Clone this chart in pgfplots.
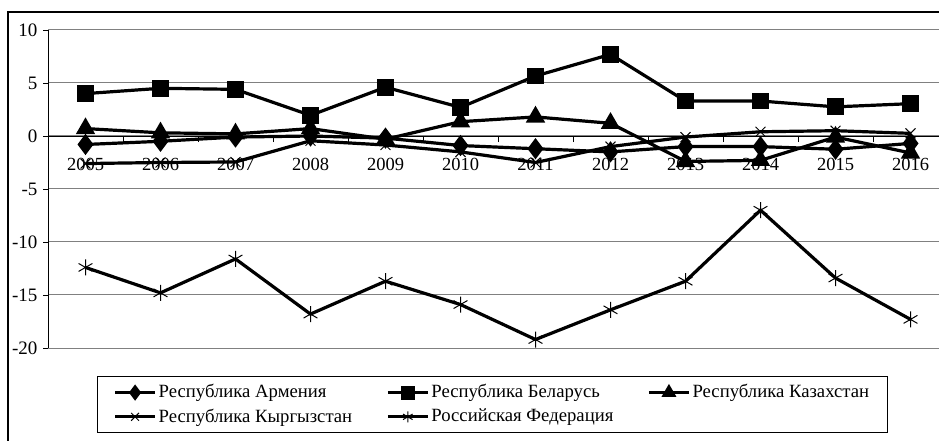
\documentclass[border=0pt]{standalone}
\usepackage{pgfplots}
\pgfplotsset{compat=1.18}
\usepackage{fontspec}
\setmainfont{Liberation Serif}
\begin{document}
\fontsize{19bp}{22bp}\selectfont
\begin{tikzpicture}
\useasboundingbox (0,0) rectangle (939bp,441bp);
\draw[line width=1.3bp] (8bp,-5bp) -- (8bp,429bp) -- (960bp,429bp);
\begin{axis}[
  at={(48bp,93bp)}, anchor=south west,
  scale only axis, width=891bp, height=318bp,
  xmin=-0.5, xmax=11.38, ymin=-20, ymax=10,
  axis y line=left, axis x line=middle,
  axis line style={-, line width=0.9bp, black},
  ytick={-20,-15,-10,-5,0,5,10},
  yticklabels={-20,-15,-10,-5,0,5,10},
  ymajorgrids, grid style={line width=1bp, gray},
  xtick={0,1,2,3,4,5,6,7,8,9,10,11},
  xticklabels={2005,2006,2007,2008,2009,2010,2011,2012,2013,2014,2015,2016},
  minor xtick={0.5,1.5,2.5,3.5,4.5,5.5,6.5,7.5,8.5,9.5,10.5},
  xtick align=outside, ytick align=outside,
  major x tick style={draw=none},
  minor x tick style={line width=0.8bp, black},
  minor tick length=6bp,
  major y tick style={line width=0.8bp, black},
  major tick length=5bp,
  xticklabel style={yshift=-11bp, font=\fontsize{18.5bp}{22bp}\selectfont},
  yticklabel style={font=\fontsize{19bp}{22bp}\selectfont, xshift=1bp},
  every axis plot/.append style={line width=3.2bp, black},
  legend columns=3,
  legend cell align=left,
  legend style={at={(0.055,-0.088)}, anchor=north west, draw=black, line width=1bp,
    inner xsep=16bp, inner ysep=6bp, row sep=4bp,
    font=\fontsize{18.7bp}{22bp}\selectfont,
    /tikz/every even column/.append style={column sep=32bp},
    nodes={inner sep=2bp}},
  legend image code/.code={
    \draw[mark repeat=2,mark phase=2, mark size=5.5bp] plot coordinates {(0bp,0bp) (20bp,0bp) (40bp,0bp)};},
  clip=false,
]
\addplot[mark=diamond*, mark size=8bp, mark options={solid, fill=black}] coordinates {
(0,-0.8) (1,-0.5) (2,-0.1) (3,0.0) (4,-0.2) (5,-0.9) (6,-1.2) (7,-1.5) (8,-1.0) (9,-1.0) (10,-1.25) (11,-0.7)};
\addlegendentry{Республика Армения}
\addplot[mark=square*, mark size=6.8bp, mark options={solid, fill=black}] coordinates {
(0,4.0) (1,4.5) (2,4.4) (3,1.95) (4,4.6) (5,2.7) (6,5.66) (7,7.7) (8,3.3) (9,3.3) (10,2.75) (11,3.05)};
\addlegendentry{Республика Беларусь}
\addplot[mark=triangle*, mark size=8bp, mark options={solid, fill=black}] coordinates {
(0,0.7) (1,0.3) (2,0.2) (3,0.7) (4,-0.3) (5,1.35) (6,1.8) (7,1.2) (8,-2.4) (9,-2.3) (10,-0.1) (11,-1.6)};
\addlegendentry{Республика Казахстан}
\addplot[mark=x, mark size=7bp, mark options={solid, line width=1bp}] coordinates {
(0,-2.6) (1,-2.5) (2,-2.45) (3,-0.45) (4,-0.85) (5,-1.5) (6,-2.5) (7,-1.0) (8,-0.1) (9,0.4) (10,0.5) (11,0.25)};
\addlegendentry{Республика Кыргызстан}
\addplot[mark=asterisk, mark size=8bp, mark options={solid, line width=1bp}] coordinates {
(0,-12.4) (1,-14.8) (2,-11.6) (3,-16.8) (4,-13.7) (5,-15.9) (6,-19.2) (7,-16.4) (8,-13.7) (9,-7.0) (10,-13.4) (11,-17.3)};
\addlegendentry{Российская Федерация}
\end{axis}
\end{tikzpicture}
\end{document}
